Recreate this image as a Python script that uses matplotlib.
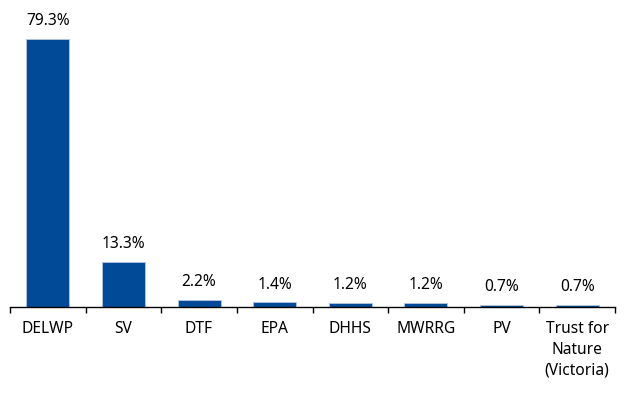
import matplotlib
matplotlib.use('Agg')
import matplotlib.pyplot as plt
import numpy as np

agencies = ['DELWP', 'SV', 'DTF', 'EPA', 'DHHS', 'MWRRG', 'PV', 'Trust for\nNature\n(Victoria)']
shares = [79.3, 13.3, 2.2, 1.4, 1.2, 1.2, 0.7, 0.7]
share_labels = ['79.3%', '13.3%', '2.2%', '1.4%', '1.2%', '1.2%', '0.7%', '0.7%']

plt.rcParams['font.family'] = ['Noto Sans', 'DejaVu Sans']

fig = plt.figure(figsize=(6.37, 3.98), dpi=100)
ax = fig.add_axes([10 / 637, 91 / 398, 605 / 637, 297 / 398])

x = np.arange(len(agencies))
bars = ax.bar(x, shares, width=0.57, color='#004A98', edgecolor='#b8c6de', linewidth=0.6)

for bar, lab in zip(bars, share_labels):
    ax.annotate(lab, (bar.get_x() + bar.get_width() / 2, bar.get_height()),
                xytext=(0, 7), textcoords='offset points',
                ha='center', va='bottom', fontsize=11.2, color='black')

ax.set_xlim(-0.5, len(agencies) - 0.5)
ax.set_ylim(0, 87.9)

ax.set_xticks(x)
ax.set_xticklabels(agencies, fontsize=11.2, linespacing=1.4, va='top')
ax.tick_params(axis='x', which='major', length=0, pad=10)
ax.set_xticks(np.arange(-0.5, len(agencies)), minor=True)
ax.tick_params(axis='x', which='minor', length=4.5, width=1, color='black', direction='out')

ax.set_yticks([])
for side in ['top', 'right', 'left']:
    ax.spines[side].set_visible(False)
ax.spines['bottom'].set_color('black')
ax.spines['bottom'].set_linewidth(1)

fig.savefig('out.png', dpi=100)
